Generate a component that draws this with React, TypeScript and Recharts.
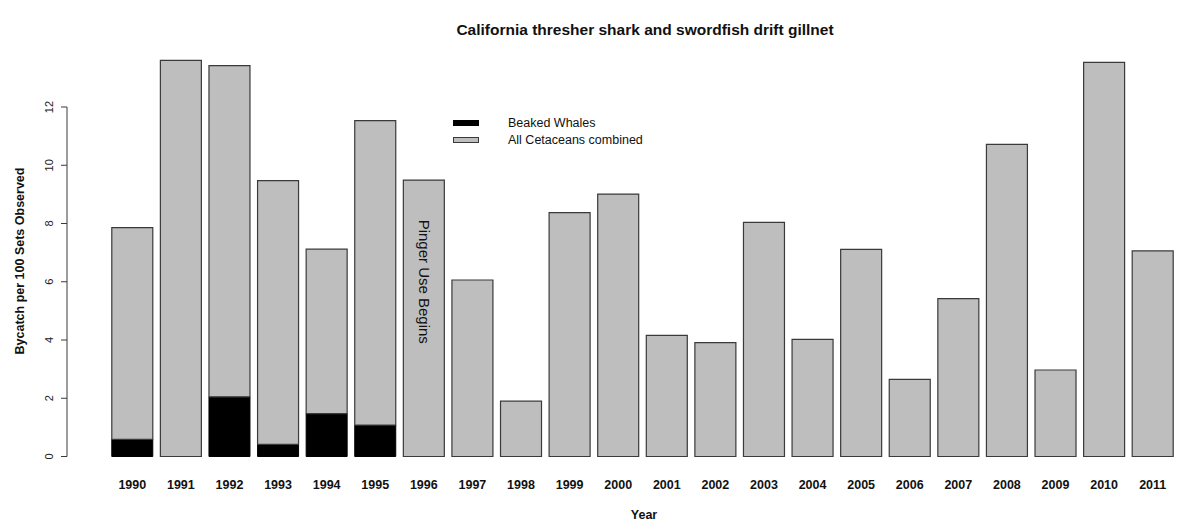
import { BarChart, Bar, XAxis, YAxis, Legend, ReferenceDot, Label } from 'recharts';

const YEARS = [
    '1990', '1991', '1992', '1993', '1994', '1995', '1996', '1997', '1998', '1999', '2000',
    '2001', '2002', '2003', '2004', '2005', '2006', '2007', '2008', '2009', '2010', '2011',
];

// bycatch per 100 sets
const ALL_CETACEANS = [
    7.86, 13.6, 13.42, 9.47, 7.12, 11.53, 9.49, 6.06, 1.9, 8.37, 9.01,
    4.16, 3.91, 8.04, 4.02, 7.11, 2.65, 5.42, 10.72, 2.97, 13.53, 7.06,
];
const BEAKED_WHALES = [
    0.59, 0, 2.05, 0.42, 1.47, 1.08, 0, 0, 0, 0, 0,
    0, 0, 0, 0, 0, 0, 0, 0, 0, 0, 0,
];
const Y_TICKS = [0, 2, 4, 6, 8, 10, 12];
const Y_MAX = 14;

const WIDTH = 1177;
const HEIGHT = 525;
const MARGIN = { top: 48.75, right: 0, bottom: 8.5, left: 7 };
const X_AXIS_H = 60;
const Y_AXIS_W = 60;
const PLOT_BOTTOM = HEIGHT - MARGIN.bottom - X_AXIS_H;
const TICK_SIZE = 6;
const TICK_MARGIN = 8;

const GRAY = '#bebebe';
const OUTLINE = '#3a3a3a';
const FONT = 'Liberation Sans, Arial, sans-serif';

// gray segment sits on top of the black one so the total matches all cetaceans
const data = YEARS.map((year, i) => ({
    year,
    beaked: BEAKED_WHALES[i],
    rest: ALL_CETACEANS[i] - BEAKED_WHALES[i],
}));

const XTick = ({ x, y, payload }: any) => (
    <text x={x} y={y} dy={32} textAnchor="middle" fontFamily={FONT} fontSize={12.5} fontWeight="bold" fill="#111">
        {payload.value}
    </text>
);

const YTick = ({ x, y, payload }: any) => {
    const axisX = x + TICK_SIZE + TICK_MARGIN;
    return (
        <g>
            <text
                x={x}
                y={y}
                transform={`rotate(-90 ${x} ${y})`}
                textAnchor="middle"
                fontFamily={FONT}
                fontSize={11}
                fill="#222"
            >
                {payload.value}
            </text>
            {payload.value === Y_TICKS[Y_TICKS.length - 1] && (
                <line x1={axisX} x2={axisX} y1={y} y2={PLOT_BOTTOM} stroke={OUTLINE} strokeWidth={1} />
            )}
        </g>
    );
};

const renderLegend = ({ payload }: any) => (
    <div style={{ fontFamily: FONT, fontSize: 12.5, color: '#111' }}>
        {payload.map((entry: any) => (
            <div key={entry.value} style={{ display: 'flex', alignItems: 'center', height: 16.4 }}>
                <span
                    style={{
                        display: 'inline-block',
                        width: 26,
                        height: 6,
                        boxSizing: 'border-box',
                        background: entry.color,
                        border: `1px solid ${entry.color === GRAY ? OUTLINE : '#000'}`,
                    }}
                />
                <span style={{ marginLeft: 29, whiteSpace: 'nowrap' }}>{entry.value}</span>
            </div>
        ))}
    </div>
);

export default function App() {
    return (
        <div style={{ position: 'absolute', left: 0, top: 0, width: WIDTH, height: HEIGHT, background: '#fff' }}>
            <div
                style={{
                    position: 'absolute',
                    left: 645,
                    top: 30,
                    transform: 'translate(-50%, -50%)',
                    fontFamily: FONT,
                    fontSize: 15.5,
                    fontWeight: 'bold',
                    whiteSpace: 'nowrap',
                    color: '#111',
                }}
            >
                California thresher shark and swordfish drift gillnet
            </div>
            <BarChart width={WIDTH} height={HEIGHT} data={data} margin={MARGIN} barCategoryGap="7.8%">
                <XAxis
                    dataKey="year"
                    height={X_AXIS_H}
                    axisLine={false}
                    tickLine={false}
                    tickSize={0}
                    tickMargin={0}
                    interval={0}
                    padding={{ left: 41, right: 0 }}
                    tick={XTick}
                >
                    <Label
                        content={() => (
                            <text x={644} y={519} textAnchor="middle" fontFamily={FONT} fontSize={12.5} fontWeight="bold" fill="#111">
                                Year
                            </text>
                        )}
                    />
                </XAxis>
                <YAxis
                    width={Y_AXIS_W}
                    domain={[0, Y_MAX]}
                    ticks={Y_TICKS}
                    axisLine={false}
                    tickSize={TICK_SIZE}
                    tickMargin={TICK_MARGIN}
                    tickLine={{ stroke: OUTLINE }}
                    tick={YTick}
                >
                    <Label
                        content={() => (
                            <text
                                x={24}
                                y={261}
                                transform="rotate(-90 24 261)"
                                textAnchor="middle"
                                fontFamily={FONT}
                                fontSize={12.5}
                                fontWeight="bold"
                                fill="#111"
                            >
                                Bycatch per 100 Sets Observed
                            </text>
                        )}
                    />
                </YAxis>
                <Legend
                    layout="vertical"
                    align="center"
                    verticalAlign="middle"
                    itemSorter="dataKey"
                    content={renderLegend}
                    wrapperStyle={{ left: 453, top: 115, width: 220, height: 34 }}
                />
                <Bar
                    dataKey="beaked"
                    name="Beaked Whales"
                    stackId="a"
                    fill="#000"
                    stroke="#000"
                    strokeWidth={1}
                    isAnimationActive={false}
                />
                <Bar
                    dataKey="rest"
                    name="All Cetaceans combined"
                    stackId="a"
                    fill={GRAY}
                    stroke={OUTLINE}
                    strokeWidth={1.2}
                    isAnimationActive={false}
                />
                <ReferenceDot x="1996" y={6} r={0} fill="none" stroke="none">
                    <Label
                        value="Pinger Use Begins"
                        position="center"
                        angle={90}
                        fontFamily={FONT}
                        fontSize={15}
                        fill="#111"
                    />
                </ReferenceDot>
            </BarChart>
        </div>
    );
}
